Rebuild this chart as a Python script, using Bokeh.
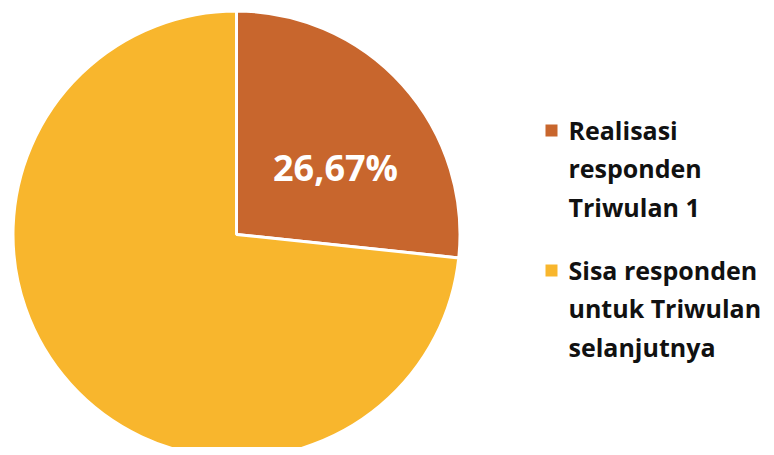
import math
from bokeh.plotting import figure
from bokeh.models import Range1d
from bokeh.core.properties import value
from bokeh.embed import file_html
from bokeh.resources import INLINE

categories = ["Realisasi responden Triwulan 1", "Sisa responden untuk Triwulan selanjutnya"]
legend_lines = [["Realisasi", "responden", "Triwulan 1"],
                ["Sisa responden", "untuk Triwulan", "selanjutnya"]]
values = [26.67, 73.33]
colors = ["#C8662D", "#F8B62D"]
pct_labels = ["26,67%", ""]

W, H = 766, 447
p = figure(width=W, height=H, output_backend="svg", toolbar_location=None,
           x_range=Range1d(0, W), y_range=Range1d(455 - H, 455),
           min_border=0, outline_line_color=None)
p.axis.visible = False
p.grid.visible = False
p.background_fill_color = "white"

cx, cy, r = 236, 455 - 234, 223.5
total = sum(values)
start = math.pi / 2
for v, c in zip(values, colors):
    ang = 2 * math.pi * v / total
    p.wedge(x=cx, y=cy, radius=r, start_angle=start - ang, end_angle=start,
            fill_color=c, line_color="white", line_width=3)
    start -= ang

# percentage label
p.text(x=[335], y=[455 - 167], text=[pct_labels[0]], text_color="white",
       text_font=value("Open Sans"), text_font_style="bold", text_font_size="36px",
       text_align="center", text_baseline="middle")

# legend
ys = [129, 269]
for lines, c, y0 in zip(legend_lines, colors, ys):
    p.rect(x=551, y=455 - (y0 + 1), width=12, height=12, fill_color=c, line_color=None)
    for i, t in enumerate(lines):
        p.text(x=[568], y=[455 - (y0 + i * 38.5)], text=[t], text_color="#111111",
               text_font=value("Open Sans"), text_font_style="bold", text_font_size="25px",
               text_align="left", text_baseline="middle")

open("out.html", "w").write(file_html(p, INLINE))
